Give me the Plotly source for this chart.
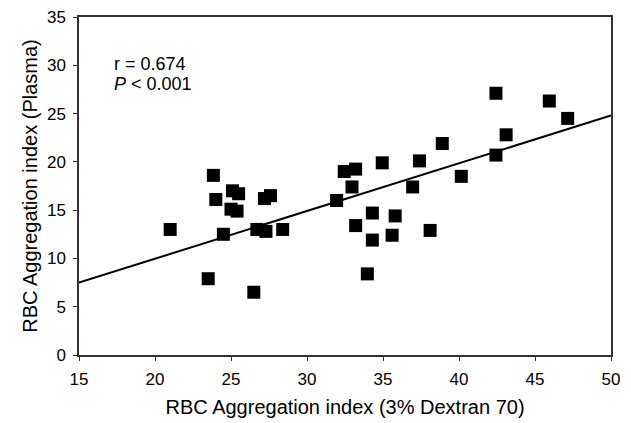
import plotly.graph_objects as go

# Data
dextran = [21.0, 23.5, 23.84, 24.0, 24.5, 25.1, 25.0, 25.4, 25.5, 26.5, 26.7, 27.2, 27.3, 27.6, 28.4,
           31.95, 32.45, 32.96, 33.2, 33.2, 33.97, 34.3, 34.3, 34.95, 35.6, 35.8, 36.95, 37.4, 38.1,
           38.9, 40.15, 42.43, 42.43, 43.1, 45.94, 47.15]
plasma = [13.0, 7.9, 18.6, 16.1, 12.5, 17.0, 15.1, 14.9, 16.7, 6.5, 13.0, 16.2, 12.8, 16.5, 13.0,
          16.0, 19.0, 17.4, 19.25, 13.4, 8.4, 14.7, 11.9, 19.9, 12.4, 14.4, 17.4, 20.1, 12.9,
          21.9, 18.5, 27.1, 20.7, 22.8, 26.3, 24.5]

fit_x = [15, 50]
fit_y = [7.5, 24.8]

x_ticks = [15, 20, 25, 30, 35, 40, 45, 50]
y_ticks = [0, 5, 10, 15, 20, 25, 30, 35]

FONT = "Liberation Sans, Arial, sans-serif"

fig = go.Figure()
fig.add_trace(go.Scatter(x=fit_x, y=fit_y, mode="lines",
                         line=dict(color="black", width=2), showlegend=False,
                         hoverinfo="skip"))
fig.add_trace(go.Scatter(x=dextran, y=plasma, mode="markers",
                         marker=dict(symbol="square", size=13, color="black",
                                     line=dict(width=0)),
                         showlegend=False))

fig.add_annotation(xref="paper", yref="paper", x=0.062, y=0.862, xanchor="left", yanchor="middle",
                   text="r = 0.674", showarrow=False,
                   font=dict(family=FONT, size=18, color="black"))
fig.add_annotation(xref="paper", yref="paper", x=0.062, y=0.803, xanchor="left", yanchor="middle",
                   text="<i>P</i> < 0.001", showarrow=False,
                   font=dict(family=FONT, size=18, color="black"))

axis_common = dict(showgrid=False, zeroline=False, showline=True, linecolor="#333333",
                   linewidth=1.5, mirror=True, ticks="outside", ticklen=4, tickwidth=1,
                   tickcolor="#333333", automargin=False, ticklabelstandoff=4,
                   tickfont=dict(family=FONT, size=17, color="black"))

fig.update_layout(
    width=631, height=423,
    margin=dict(l=79, r=20, t=17, b=68),
    paper_bgcolor="white", plot_bgcolor="white",
    font=dict(family=FONT, color="black"),
    xaxis=dict(range=[15, 50], tickvals=x_ticks,
               title=dict(text="RBC Aggregation index (3% Dextran 70)",
                          font=dict(family=FONT, size=20), standoff=12),
               **axis_common),
    yaxis=dict(range=[0, 35], tickvals=y_ticks,
               title=dict(text="RBC Aggregation index (Plasma)",
                          font=dict(family=FONT, size=20), standoff=4),
               **axis_common),
)

fig.write_html("out.html")
